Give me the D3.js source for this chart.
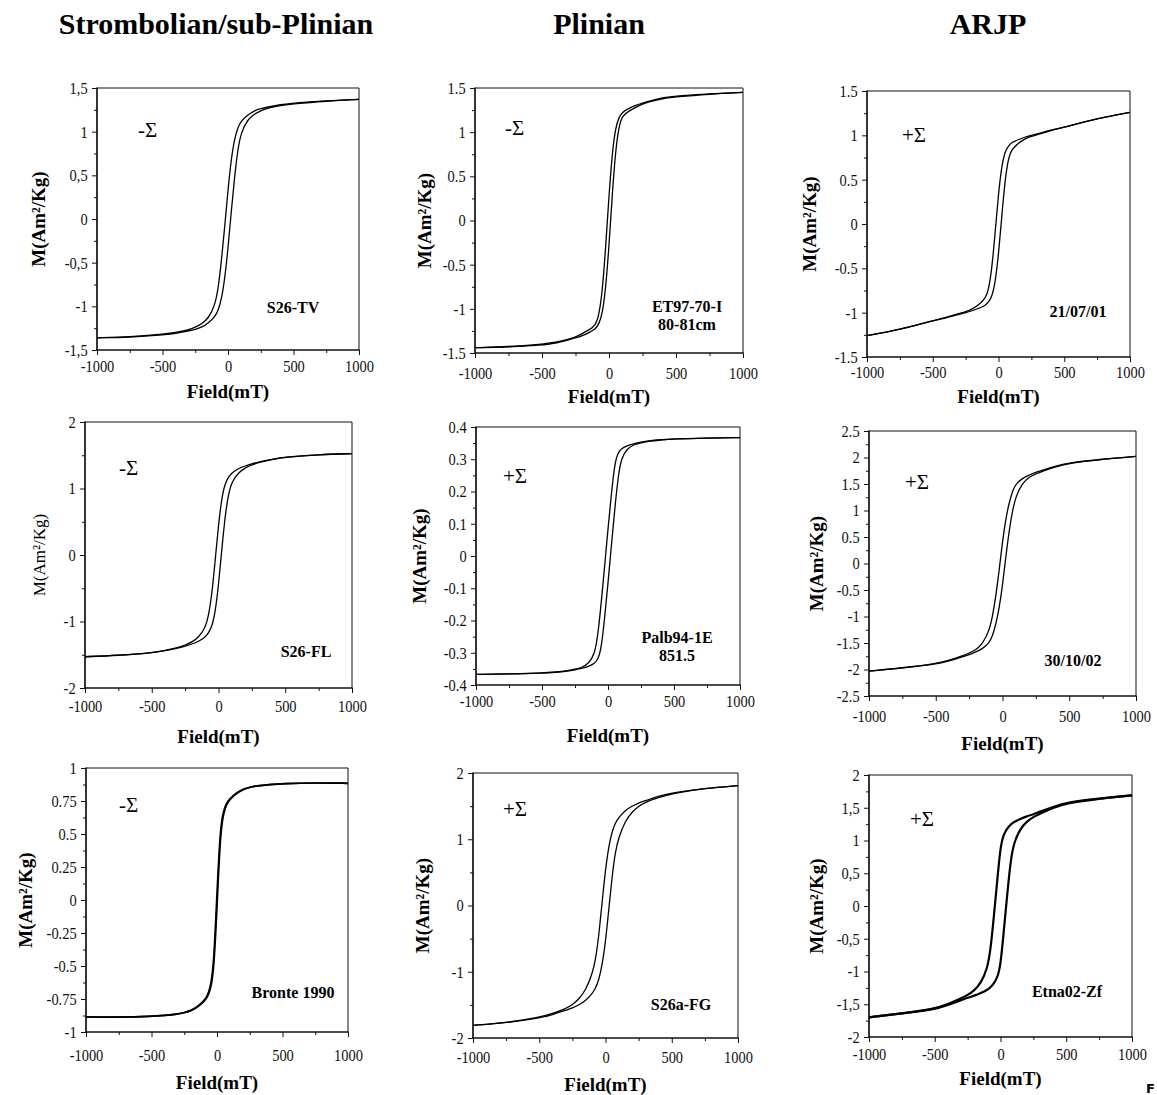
<!DOCTYPE html>
<html>
<head>
<meta charset="utf-8">
<script src="https://cdn.jsdelivr.net/npm/d3@7/dist/d3.min.js"></script>
<style>
  body { margin: 0; background: #fff; }
  svg { display: block; }
</style>
</head>
<body>
<div id="viz"></div>
<script>
// Hysteresis loops, 3 eruption styles x 3 samples

// ---- data ----
const fields = [-1000, -750, -500, -400, -300, -250, -200, -150, -100, -75, -50, -25, 0,
                25, 50, 75, 100, 150, 200, 250, 300, 400, 500, 750, 1000];

const columnTitles = ["Strombolian/sub-Plinian", "Plinian", "ARJP"];

const sampleNames = [["S26-TV"], ["ET97-70-I", "80-81cm"], ["21/07/01"],
                     ["S26-FL"], ["Palb94-1E", "851.5"], ["30/10/02"],
                     ["Bronte 1990"], ["S26a-FG"], ["Etna02-Zf"]];

const sigmaSigns = ["-Σ", "-Σ", "+Σ", "-Σ", "+Σ", "+Σ", "-Σ", "+Σ", "+Σ"];

const yRanges = [[-1.5, 1.5], [-1.5, 1.5], [-1.5, 1.5],
                 [-2, 2], [-0.4, 0.4], [-2.5, 2.5],
                 [-1, 1], [-2, 2], [-2, 2]];
const yMajorSteps = [0.5, 0.5, 0.5, 1, 0.1, 0.5, 0.25, 1, 0.5];
const yMinorSteps = [0.25, 0.25, 0.25, 0.5, 0.05, 0.25, 0.125, 0.5, 0.25];
const commaDecimals = [true, false, false, false, false, false, false, false, true];
const boldYLabel = [true, true, true, false, true, true, true, true, true];

const xTicks = [-1000, -500, 0, 500, 1000];
const xMinorTicks = [-750, -250, 250, 750];

// descending (from +1000) and ascending (from -1000) branches, M in Am2/kg
const s26tvDown = [-1.36, -1.35, -1.32, -1.30, -1.27, -1.24, -1.20, -1.14, -0.99, -0.80, -0.48, -0.09, 0.34, 0.69, 0.92, 1.05, 1.12, 1.19, 1.24, 1.265, 1.28, 1.31, 1.33, 1.355, 1.37];
const s26tvUp   = [-1.36, -1.355, -1.33, -1.31, -1.28, -1.265, -1.24, -1.19, -1.12, -1.05, -0.92, -0.69, -0.34, 0.09, 0.48, 0.80, 0.99, 1.14, 1.20, 1.24, 1.27, 1.30, 1.32, 1.35, 1.37];

const et97Down = [-1.44, -1.43, -1.40, -1.38, -1.345, -1.32, -1.28, -1.24, -1.19, -1.07, -0.81, -0.31, 0.29, 0.78, 1.06, 1.17, 1.23, 1.27, 1.305, 1.33, 1.35, 1.39, 1.41, 1.435, 1.45];
const et97Up   = [-1.44, -1.435, -1.41, -1.39, -1.35, -1.33, -1.305, -1.27, -1.23, -1.17, -1.06, -0.78, -0.29, 0.31, 0.81, 1.07, 1.19, 1.24, 1.28, 1.32, 1.345, 1.38, 1.40, 1.43, 1.45];

const arjp01Down = [-1.26, -1.19, -1.09, -1.055, -1.01, -0.99, -0.96, -0.91, -0.84, -0.74, -0.50, -0.09, 0.35, 0.66, 0.82, 0.88, 0.92, 0.95, 0.98, 1.0, 1.02, 1.06, 1.09, 1.19, 1.26];
const arjp01Up   = [-1.26, -1.19, -1.09, -1.06, -1.02, -1.0, -0.98, -0.95, -0.92, -0.88, -0.82, -0.66, -0.35, 0.09, 0.50, 0.74, 0.84, 0.91, 0.96, 0.99, 1.01, 1.055, 1.09, 1.19, 1.26];

const s26flDown = [-1.53, -1.51, -1.47, -1.435, -1.39, -1.355, -1.31, -1.24, -1.10, -0.92, -0.60, -0.09, 0.46, 0.87, 1.08, 1.17, 1.24, 1.30, 1.34, 1.37, 1.40, 1.44, 1.475, 1.51, 1.525];
const s26flUp   = [-1.53, -1.51, -1.475, -1.44, -1.40, -1.37, -1.34, -1.30, -1.24, -1.17, -1.08, -0.87, -0.46, 0.09, 0.60, 0.92, 1.10, 1.24, 1.31, 1.355, 1.39, 1.435, 1.47, 1.51, 1.525];

const palbDown = [-0.367, -0.366, -0.363, -0.360, -0.355, -0.351, -0.346, -0.335, -0.305, -0.24, -0.14, -0.03, 0.085, 0.19, 0.285, 0.32, 0.333, 0.343, 0.349, 0.353, 0.357, 0.361, 0.363, 0.366, 0.367];
const palbUp   = [-0.367, -0.366, -0.363, -0.361, -0.357, -0.353, -0.349, -0.343, -0.333, -0.32, -0.285, -0.19, -0.085, 0.03, 0.14, 0.24, 0.305, 0.335, 0.346, 0.351, 0.355, 0.360, 0.363, 0.366, 0.367];

const arjp02Down = [-2.03, -1.97, -1.89, -1.83, -1.74, -1.69, -1.63, -1.52, -1.27, -1.00, -0.62, -0.13, 0.42, 0.85, 1.15, 1.37, 1.50, 1.61, 1.67, 1.72, 1.76, 1.84, 1.90, 1.97, 2.02];
const arjp02Up   = [-2.03, -1.97, -1.90, -1.84, -1.76, -1.72, -1.67, -1.61, -1.50, -1.37, -1.15, -0.85, -0.42, 0.13, 0.62, 1.00, 1.27, 1.52, 1.63, 1.69, 1.74, 1.83, 1.89, 1.97, 2.02];

const bronteDown = [-0.886, -0.888, -0.882, -0.875, -0.864, -0.853, -0.838, -0.81, -0.765, -0.73, -0.66, -0.50, 0.06, 0.55, 0.68, 0.74, 0.77, 0.815, 0.84, 0.855, 0.865, 0.875, 0.882, 0.888, 0.884];
const bronteUp   = [-0.886, -0.888, -0.882, -0.875, -0.865, -0.855, -0.84, -0.815, -0.77, -0.74, -0.68, -0.55, -0.06, 0.50, 0.66, 0.73, 0.765, 0.81, 0.838, 0.853, 0.864, 0.875, 0.882, 0.888, 0.884];

const s26aDown = [-1.81, -1.77, -1.69, -1.63, -1.56, -1.50, -1.41, -1.28, -1.03, -0.82, -0.45, 0.06, 0.55, 0.9, 1.12, 1.25, 1.33, 1.44, 1.50, 1.55, 1.58, 1.65, 1.70, 1.77, 1.81];
const s26aUp   = [-1.81, -1.77, -1.70, -1.65, -1.58, -1.55, -1.50, -1.44, -1.33, -1.25, -1.12, -0.9, -0.55, -0.06, 0.45, 0.82, 1.03, 1.28, 1.41, 1.50, 1.56, 1.63, 1.69, 1.77, 1.81];

const etnaDown = [-1.70, -1.64, -1.57, -1.50, -1.41, -1.36, -1.29, -1.18, -0.96, -0.66, -0.15, 0.38, 0.92, 1.10, 1.18, 1.24, 1.28, 1.33, 1.37, 1.40, 1.44, 1.51, 1.58, 1.64, 1.69];
const etnaUp   = [-1.70, -1.64, -1.58, -1.51, -1.44, -1.40, -1.37, -1.33, -1.28, -1.24, -1.18, -1.10, -0.92, -0.38, 0.15, 0.66, 0.96, 1.18, 1.29, 1.36, 1.41, 1.50, 1.57, 1.64, 1.69];

const loops = [[s26tvDown, s26tvUp], [et97Down, et97Up], [arjp01Down, arjp01Up],
               [s26flDown, s26flUp], [palbDown, palbUp], [arjp02Down, arjp02Up],
               [bronteDown, bronteUp], [s26aDown, s26aUp], [etnaDown, etnaUp]];

// ---- layout ----
const W = 1157, H = 1095;
const titleX = [216, 599, 988];

// plot boxes: left, right, top, bottom
const boxes = [
  [97, 359, 88, 350], [475, 743, 88, 353], [867, 1130, 91, 357],
  [85, 352, 422, 688], [476, 740, 427, 685], [869, 1136, 431, 696],
  [86, 348, 768, 1032], [473, 738, 773, 1038], [869, 1132, 775, 1037]
];
const tickGap = [22, 26, 21, 24, 22, 26, 29, 25, 23];     // axis -> tick label baseline
const xLabelY = [398, 403, 403, 743, 742, 750, 1089, 1091, 1085];
const yLabelDist = [52, 44, 51, 40, 50, 46, 54, 44, 46];
const sigmaPos = [[138, 137], [505, 135], [902, 142], [119, 475], [503, 483], [905, 489], [119, 812], [503, 816], [910, 826]];
const samplePos = [[293, 313], [687, 312], [1078, 317], [306, 657], [677, 643], [1073, 666], [293, 998], [681, 1010], [1067, 997]];
const curveWidth = [1.3, 1.3, 1.3, 1.3, 1.3, 1.3, 1.7, 1.3, 2.2];

const serif = "'Liberation Serif', 'Times New Roman', serif";
const tickFont = 17;
const squeeze = 0.85; // tick labels are set in a condensed face

const svg = d3.select("#viz")
  .append("svg")
  .attr("width", W)
  .attr("height", H)
  .style("background", "#fff");

// column titles
svg.selectAll("text.col-title")
  .data(columnTitles)
  .join("text")
  .attr("class", "col-title")
  .attr("x", (d, i) => titleX[i])
  .attr("y", 34)
  .attr("text-anchor", "middle")
  .attr("font-family", serif)
  .attr("font-weight", "bold")
  .attr("font-size", "30px")
  .text(d => d);

function stepValues(lo, hi, step) {
  const n = Math.round((hi - lo) / step);
  return d3.range(n + 1).map(i => +(lo + i * step).toFixed(4));
}

function fmtNum(v, comma) {
  const s = String(+v.toFixed(4));
  return comma ? s.replace(".", ",") : s;
}

loops.forEach((branches, i) => {
  const [left, right, top, bottom] = boxes[i];
  const g = svg.append("g").attr("class", "panel");

  const x = d3.scaleLinear().domain([-1000, 1000]).range([left, right]);
  const y = d3.scaleLinear().domain(yRanges[i]).range([bottom, top]);

  const major = stepValues(yRanges[i][0], yRanges[i][1], yMajorSteps[i]);
  const minor = stepValues(yRanges[i][0], yRanges[i][1], yMinorSteps[i])
    .filter(v => !major.some(m => Math.abs(m - v) < 1e-6));

  // minor ticks
  g.append("g")
    .attr("transform", `translate(0,${bottom})`)
    .call(d3.axisBottom(x).tickValues(xMinorTicks).tickSize(3).tickFormat(""))
    .call(a => a.select(".domain").remove());
  g.append("g")
    .attr("transform", `translate(${left},0)`)
    .call(d3.axisLeft(y).tickValues(minor).tickSize(3).tickFormat(""))
    .call(a => a.select(".domain").remove());

  // major ticks + labels
  const xAxis = g.append("g")
    .attr("transform", `translate(0,${bottom})`)
    .call(d3.axisBottom(x).tickValues(xTicks).tickSize(5).tickPadding(tickGap[i] - 17)
      .tickFormat(d => String(d)))
    .call(a => a.select(".domain").remove());
  const yAxis = g.append("g")
    .attr("transform", `translate(${left},0)`)
    .call(d3.axisLeft(y).tickValues(major).tickSize(5).tickPadding(6)
      .tickFormat(d => fmtNum(d, commaDecimals[i])))
    .call(a => a.select(".domain").remove());

  [xAxis, yAxis].forEach(a => {
    a.selectAll("text")
      .attr("font-family", serif)
      .attr("font-size", tickFont + "px")
      .attr("fill", "#111")
      .attr("transform", `scale(${squeeze},1)`);
  });
  g.selectAll(".tick line").attr("stroke", "#111").attr("stroke-width", 1);

  // frame: left/bottom heavier than top/right
  g.append("line").attr("x1", left).attr("x2", right).attr("y1", top).attr("y2", top)
    .attr("stroke", "#111").attr("stroke-width", 1);
  g.append("line").attr("x1", right).attr("x2", right).attr("y1", top).attr("y2", bottom)
    .attr("stroke", "#111").attr("stroke-width", 1);
  g.append("line").attr("x1", left).attr("x2", left).attr("y1", top - 0.5).attr("y2", bottom + 0.8)
    .attr("stroke", "#111").attr("stroke-width", 1.7);
  g.append("line").attr("x1", left).attr("x2", right + 0.5).attr("y1", bottom).attr("y2", bottom)
    .attr("stroke", "#111").attr("stroke-width", 1.7);

  // loop branches
  const line = d3.line()
    .x((d, k) => x(fields[k]))
    .y(d => y(d))
    .curve(d3.curveBasis);

  g.selectAll("path.branch")
    .data(branches)
    .join("path")
    .attr("class", "branch")
    .attr("d", line)
    .attr("fill", "none")
    .attr("stroke", "#000")
    .attr("stroke-width", curveWidth[i])
    .attr("stroke-linejoin", "round");

  // axis titles
  g.append("text")
    .attr("x", (left + right) / 2)
    .attr("y", xLabelY[i])
    .attr("text-anchor", "middle")
    .attr("font-family", serif)
    .attr("font-weight", "bold")
    .attr("font-size", "19px")
    .text("Field(mT)");

  const ly = (top + bottom) / 2;
  const lx = left - yLabelDist[i];
  g.append("text")
    .attr("transform", `translate(${lx},${ly}) rotate(-90)`)
    .attr("text-anchor", "middle")
    .attr("font-family", serif)
    .attr("font-weight", boldYLabel[i] ? "bold" : "normal")
    .attr("font-size", boldYLabel[i] ? "19px" : "17px")
    .text("M(Am²/Kg)");

  // anisotropy sign
  g.append("text")
    .attr("x", sigmaPos[i][0])
    .attr("y", sigmaPos[i][1])
    .attr("font-family", serif)
    .attr("font-size", "21px")
    .text(sigmaSigns[i]);

  // sample name
  g.append("text")
    .attr("text-anchor", "middle")
    .attr("font-family", serif)
    .attr("font-weight", "bold")
    .attr("font-size", "16px")
    .selectAll("tspan")
    .data(sampleNames[i])
    .join("tspan")
    .attr("x", samplePos[i][0])
    .attr("y", (d, k) => samplePos[i][1] + k * 18)
    .text(d => d);
});

// stray mark of the next figure, bottom-right corner
svg.append("text")
  .attr("x", 1146)
  .attr("y", 1093)
  .attr("font-family", "'DejaVu Sans', sans-serif")
  .attr("font-weight", "bold")
  .attr("font-size", "13px")
  .text("F");
</script>
</body>
</html>
